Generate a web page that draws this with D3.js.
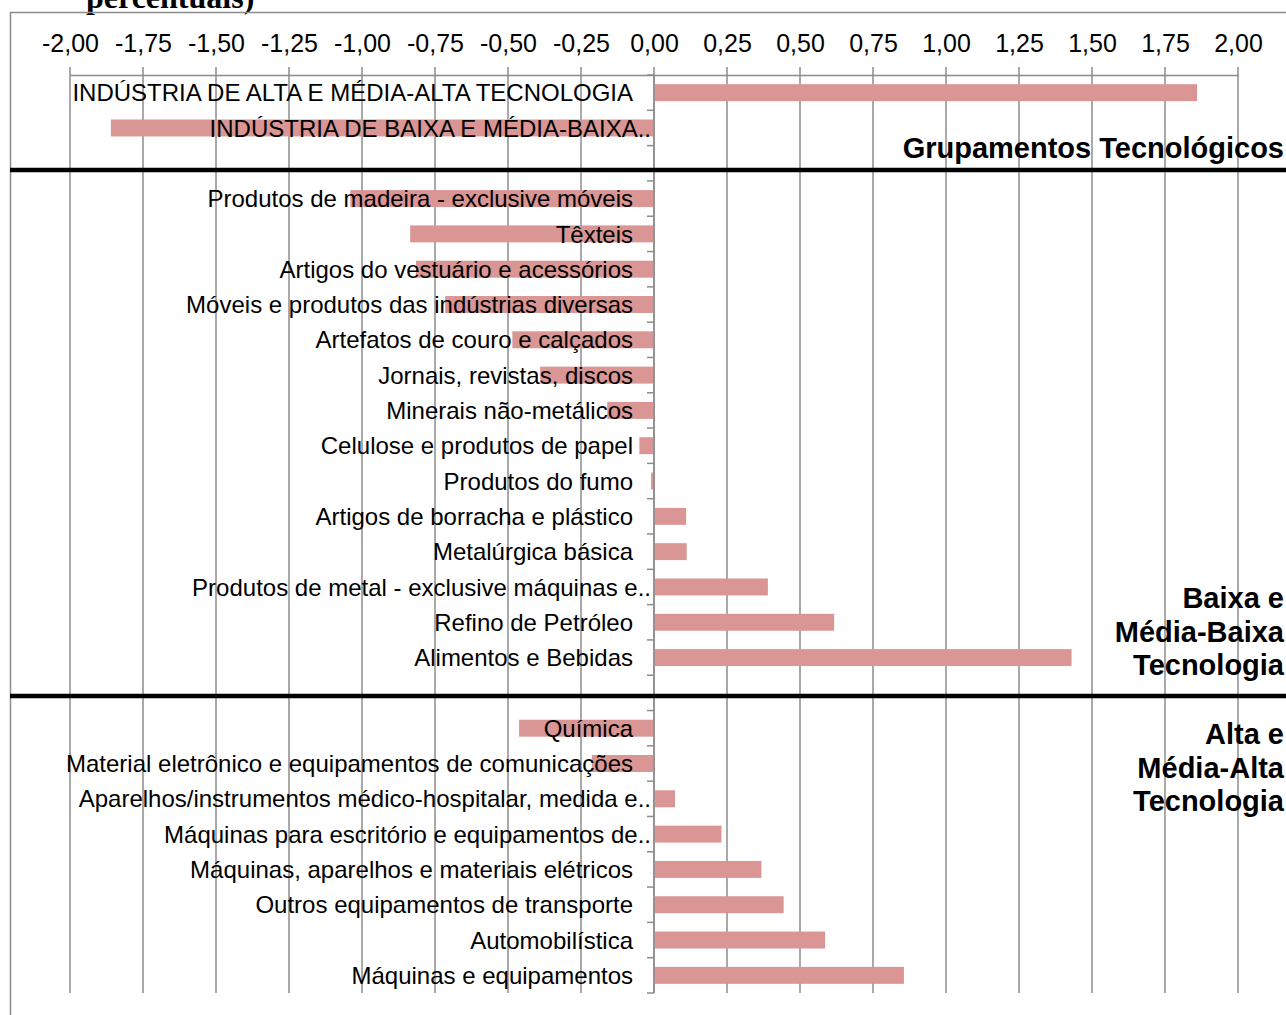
<!DOCTYPE html>
<html>
<head>
<meta charset="UTF-8">
<title>Grupamentos Tecnológicos</title>
<script src="https://d3js.org/d3.v7.min.js"></script>
<style>
    body { margin: 0; background: #fff; }
    svg { display: block; }
    text { font-family: "Liberation Sans", Arial, sans-serif; fill: #000; }
</style>
</head>
<body>
<div id="chart"></div>
<script>
    // grupamentos tecnológicos
    var techLabels = ["INDÚSTRIA DE ALTA E MÉDIA-ALTA TECNOLOGIA", "INDÚSTRIA DE BAIXA E MÉDIA-BAIXA.."];
    var techValues = [1.86, -1.86];

    // baixa e média-baixa tecnologia
    var lowLabels = ["Produtos de madeira - exclusive móveis", "Têxteis", "Artigos do vestuário e acessórios",
        "Móveis e produtos das indústrias diversas", "Artefatos de couro e calçados", "Jornais, revistas, discos",
        "Minerais não-metálicos", "Celulose e produtos de papel", "Produtos do fumo", "Artigos de borracha e plástico",
        "Metalúrgica básica", "Produtos de metal - exclusive máquinas e..", "Refino de Petróleo", "Alimentos e Bebidas"];
    var lowValues = [-1.04, -0.835, -0.815, -0.715, -0.485, -0.39, -0.16, -0.05, -0.01, 0.11, 0.112, 0.39, 0.617, 1.43];

    // alta e média-alta tecnologia
    var highLabels = ["Química", "Material eletrônico e equipamentos de comunicações",
        "Aparelhos/instrumentos médico-hospitalar, medida e..", "Máquinas para escritório e equipamentos de..",
        "Máquinas, aparelhos e materiais elétricos", "Outros equipamentos de transporte", "Automobilística",
        "Máquinas e equipamentos"];
    var highValues = [-0.462, -0.213, 0.072, 0.231, 0.368, 0.444, 0.586, 0.856];

    var groupTitles = [["Grupamentos Tecnológicos"], ["Baixa e", "Média-Baixa", "Tecnologia"], ["Alta e", "Média-Alta", "Tecnologia"]];
    var xDomain = [-2, 2];

    var W = 1286, H = 1015;
    var barColor = "#d99694", gridColor = "#8c8c8c";

    var rows = [];
    techLabels.forEach(function (l, i) { rows.push({ key: "t" + i, label: l, value: techValues[i] }); });
    rows.push({ key: "gap1", gap: true });
    lowLabels.forEach(function (l, i) { rows.push({ key: "l" + i, label: l, value: lowValues[i] }); });
    rows.push({ key: "gap2", gap: true });
    highLabels.forEach(function (l, i) { rows.push({ key: "h" + i, label: l, value: highValues[i] }); });
    var bars = rows.filter(function (d) { return !d.gap; });

    var svg = d3.select("#chart").append("svg").attr("width", W).attr("height", H);

    var x = d3.scaleLinear().domain(xDomain).range([70, 1238]);
    var y = d3.scaleBand().domain(rows.map(function (d) { return d.key; })).range([75, 993]).paddingInner(0.52).paddingOuter(0.26);
    var step = y.step(), plotTop = y.range()[0], plotBottom = y.range()[1];
    // start of the slot that holds a row
    var slot = function (k) { return y(k) + y.bandwidth() / 2 - step / 2; };

    // cut-off title from the page above
    svg.append("text").attr("x", 86).attr("y", 8)
        .style("font-family", "'Liberation Serif', 'Times New Roman', serif")
        .style("font-weight", "bold").style("font-size", "32px")
        .text("percentuais)");

    // outer frame
    svg.append("path").attr("d", "M10.5," + H + "V12.5H" + W)
        .attr("fill", "none").attr("stroke", gridColor).attr("stroke-width", 1.5);

    // vertical grid
    var ticks = d3.range(xDomain[0], xDomain[1] + 0.001, 0.25);
    svg.append("g").selectAll("line").data(ticks).join("line")
        .attr("x1", function (d) { return x(d); }).attr("x2", function (d) { return x(d); })
        .attr("y1", plotTop - 8).attr("y2", plotBottom)
        .attr("stroke", gridColor).attr("stroke-width", 1.5);

    // top axis
    var fmt = function (d) { return d3.format(".2f")(d).replace(".", ",").replace("−", "-"); };
    var xAxis = svg.append("g").attr("transform", "translate(0," + plotTop + ")")
        .call(d3.axisTop(x).tickValues(ticks).tickFormat(fmt).tickSize(0).tickPadding(23));
    xAxis.select(".domain").attr("stroke", gridColor).attr("stroke-width", 1.5);
    xAxis.selectAll("text").attr("fill", "#000").style("font-size", "25px").style("font-family", "'Liberation Sans', Arial, sans-serif");

    // bars
    svg.append("g").selectAll("rect").data(bars).join("rect")
        .attr("x", function (d) { return x(Math.min(0, d.value)); })
        .attr("y", function (d) { return y(d.key); })
        .attr("width", function (d) { return Math.abs(x(d.value) - x(0)); })
        .attr("height", y.bandwidth())
        .attr("fill", barColor);

    // category axis at zero
    var cat = svg.append("g");
    cat.append("line").attr("x1", x(0)).attr("x2", x(0)).attr("y1", plotTop).attr("y2", plotBottom)
        .attr("stroke", gridColor).attr("stroke-width", 1.5);
    cat.selectAll(".ct").data(d3.range(rows.length + 1)).join("line")
        .attr("x1", x(0) - 7).attr("x2", x(0))
        .attr("y1", function (i) { return plotTop + i * step; }).attr("y2", function (i) { return plotTop + i * step; })
        .attr("stroke", gridColor).attr("stroke-width", 1.5);

    // category labels
    svg.append("g").selectAll("text").data(bars).join("text")
        .attr("x", function (d) { return x(0) - (/\.\.$/.test(d.label) ? 3 : 21); })
        .attr("y", function (d) { return y(d.key) + y.bandwidth() / 2; })
        .attr("dy", "0.36em")
        .attr("text-anchor", "end")
        .style("font-size", "24px")
        .text(function (d) { return d.label; });

    // group separators
    [slot("gap1") + step * 0.69, slot("gap2") + step * 0.59].forEach(function (yy) {
        svg.append("line").attr("x1", 10).attr("x2", W).attr("y1", yy).attr("y2", yy)
            .attr("stroke", "#000").attr("stroke-width", 4.5);
    });

    // group titles
    var titleY = [slot("t1") + step * 1.35, slot("l12") + step * 0.1, slot("h0") + step * 0.95];
    groupTitles.forEach(function (lines, g) {
        var t = svg.append("text").attr("x", 1284).attr("y", titleY[g])
            .attr("text-anchor", "end")
            .style("font-weight", "bold").style("font-size", "29px");
        lines.forEach(function (l, i) {
            t.append("tspan").attr("x", 1284).attr("dy", i === 0 ? 0 : 33.5).text(l);
        });
    });
</script>
</body>
</html>
